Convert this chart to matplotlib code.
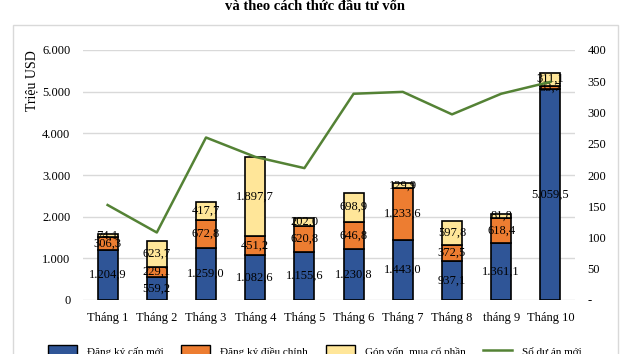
import matplotlib.pyplot as plt
import matplotlib.patches as mpatches
from matplotlib.lines import Line2D
import numpy as np

plt.rcParams['font.family'] = ['Liberation Serif', 'DejaVu Serif']

months = ['Tháng 1', 'Tháng 2', 'Tháng 3', 'Tháng 4', 'Tháng 5',
          'Tháng 6', 'Tháng 7', 'Tháng 8', 'tháng 9', 'Tháng 10']
cap_moi = [1204.9, 559.2, 1259.0, 1082.6, 1155.6, 1230.8, 1443.0, 937.1, 1361.1, 5059.5]
dieu_chinh = [306.3, 229.1, 672.8, 451.2, 620.8, 646.8, 1233.6, 372.5, 618.4, 83.7]
gop_von = [74.1, 623.7, 417.7, 1897.7, 202.0, 698.9, 129.9, 597.8, 81.8, 311.1]
so_du_an = [152, 108, 260, 229, 211, 330, 333, 297, 330, 349]

c_blue = '#2F5597'
c_orange = '#ED7D31'
c_yellow = '#FFE699'
c_green = '#548235'


def vn(v):
    s = '{:,.1f}'.format(v)
    return s.replace(',', 'X').replace('.', ',').replace('X', '.')


def vn_int(v, pos=None):
    return '{:,.0f}'.format(v).replace(',', '.')


fig = plt.figure(figsize=(6.3, 3.54), dpi=100)
fig.patches.append(mpatches.Rectangle((13 / 630, -0.1), 605 / 630, 1.1 - 25 / 354,
                                      transform=fig.transFigure, fill=False,
                                      edgecolor='#D9D9D9', lw=1))

ax = fig.add_axes([83 / 630, 1 - 300 / 354, 492 / 630, 250 / 354])
x = np.arange(len(months))
w = 0.41
bottom = np.zeros(len(months))
for vals, col in [(cap_moi, c_blue), (dieu_chinh, c_orange), (gop_von, c_yellow)]:
    vals = np.array(vals)
    ax.bar(x, vals, w, bottom=bottom, color=col, edgecolor='black', lw=1.2, zorder=3)
    for xi, b, v in zip(x, bottom, vals):
        ax.text(xi, b + v / 2, vn(v), ha='center', va='center', fontsize=9,
                color='black', zorder=5)
    bottom += vals

ax.set_ylim(0, 6000)
ax.set_xlim(-0.5, len(months) - 0.5)
ax.set_yticks(np.arange(0, 6001, 1000))
ax.yaxis.set_major_formatter(plt.FuncFormatter(vn_int))
ax.grid(axis='y', color='#D9D9D9', lw=1, zorder=0)
ax.set_xticks(x)
ax.set_xticklabels(months)
ax.tick_params(length=0, labelsize=9, pad=9)
ax.tick_params(axis='y', pad=9)
for s in ax.spines.values():
    s.set_visible(False)
ax.set_ylabel('Triệu USD', fontsize=10, loc='top', labelpad=3)

ax2 = ax.twinx()
ax2.plot(x, so_du_an, color=c_green, lw=1.8, zorder=4)
ax2.set_ylim(0, 400)
ax2.set_yticks(np.arange(0, 401, 50))
ax2.set_yticklabels(['-'] + [str(v) for v in range(50, 401, 50)])
ax2.tick_params(length=0, labelsize=9, pad=9)
for s in ax2.spines.values():
    s.set_visible(False)

fig.text(0.5, 1 - 7 / 354, 'và theo cách thức đầu tư vốn', ha='center', va='center',
         fontsize=10.5, fontweight='bold')

handles = [mpatches.Patch(facecolor=c_blue, edgecolor='black', label='Đăng ký cấp mới'),
           mpatches.Patch(facecolor=c_orange, edgecolor='black', label='Đăng ký điều chỉnh'),
           mpatches.Patch(facecolor=c_yellow, edgecolor='black', label='Góp vốn, mua cổ phần'),
           Line2D([0], [0], color=c_green, lw=1.8, label='Số dự án mới')]
fig.legend(handles=handles, loc='center', bbox_to_anchor=(0.5, 0.008), ncol=4,
           frameon=False, fontsize=8, handlelength=2.6, handleheight=1.2,
           columnspacing=1.6, handletextpad=0.9)

fig.savefig('out.png', dpi=100)
